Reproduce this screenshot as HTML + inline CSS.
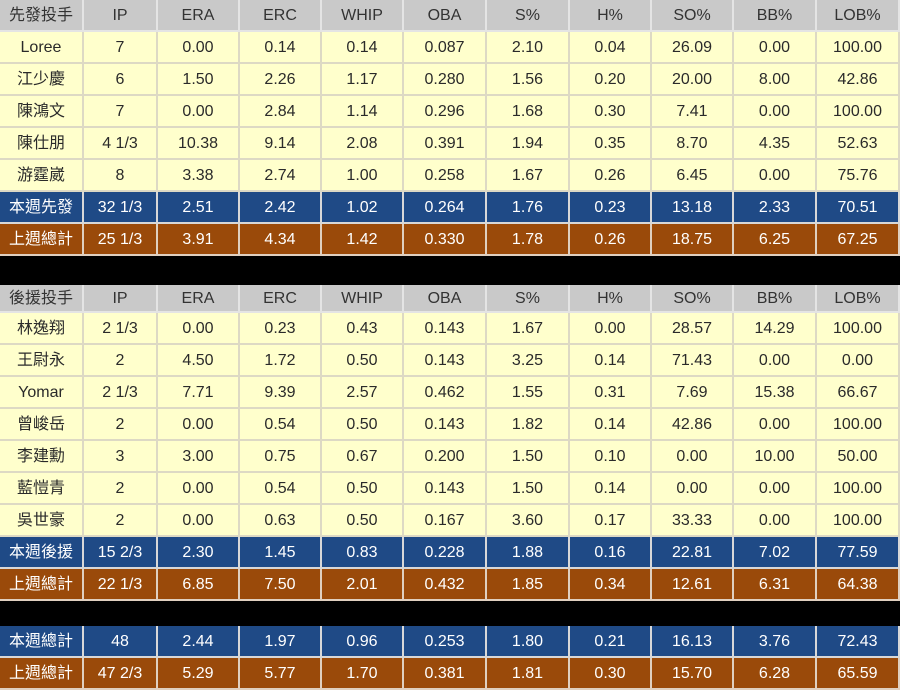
<!DOCTYPE html>
<html><head><meta charset="utf-8">
<style>
html,body{margin:0;padding:0;background:#000;}
body{width:900px;height:690px;position:relative;overflow:hidden;font-family:"Liberation Sans","Noto Sans CJK TC",sans-serif;}
.c{position:absolute;box-sizing:border-box;display:flex;align-items:center;justify-content:center;font-size:16px;line-height:20px;border-right:2px solid #ddd9c4;border-bottom:2px solid #ddd9c4;padding-top:1px;}
.c span{display:block;height:20px;line-height:20px;}
.h{background:#c9c9c9;color:#333;border-color:#e4e4e4;}
.y{background:#ffffcc;color:#2a2a2a;}
.b{background:#1f4a86;color:#fff;border-color:#d8d8d8;}
.o{background:#9a4a0a;color:#fff;border-color:#e0d0c0;}
</style></head><body>
<script>
const cols=[0,84,158,240,322,404,487,570,652,734,817,900];
const heads=["IP","ERA","ERC","WHIP","OBA","S%","H%","SO%","BB%","LOB%"];
const starters=[
["Loree","7","0.00","0.14","0.14","0.087","2.10","0.04","26.09","0.00","100.00"],
["江少慶","6","1.50","2.26","1.17","0.280","1.56","0.20","20.00","8.00","42.86"],
["陳鴻文","7","0.00","2.84","1.14","0.296","1.68","0.30","7.41","0.00","100.00"],
["陳仕朋","4 1/3","10.38","9.14","2.08","0.391","1.94","0.35","8.70","4.35","52.63"],
["游霆崴","8","3.38","2.74","1.00","0.258","1.67","0.26","6.45","0.00","75.76"]];
const starterTotals=[
["本週先發","32 1/3","2.51","2.42","1.02","0.264","1.76","0.23","13.18","2.33","70.51"],
["上週總計","25 1/3","3.91","4.34","1.42","0.330","1.78","0.26","18.75","6.25","67.25"]];
const relievers=[
["林逸翔","2 1/3","0.00","0.23","0.43","0.143","1.67","0.00","28.57","14.29","100.00"],
["王尉永","2","4.50","1.72","0.50","0.143","3.25","0.14","71.43","0.00","0.00"],
["Yomar","2 1/3","7.71","9.39","2.57","0.462","1.55","0.31","7.69","15.38","66.67"],
["曾峻岳","2","0.00","0.54","0.50","0.143","1.82","0.14","42.86","0.00","100.00"],
["李建勳","3","3.00","0.75","0.67","0.200","1.50","0.10","0.00","10.00","50.00"],
["藍愷青","2","0.00","0.54","0.50","0.143","1.50","0.14","0.00","0.00","100.00"],
["吳世豪","2","0.00","0.63","0.50","0.167","3.60","0.17","33.33","0.00","100.00"]];
const relieverTotals=[
["本週後援","15 2/3","2.30","1.45","0.83","0.228","1.88","0.16","22.81","7.02","77.59"],
["上週總計","22 1/3","6.85","7.50","2.01","0.432","1.85","0.34","12.61","6.31","64.38"]];
const grandTotals=[
["本週總計","48","2.44","1.97","0.96","0.253","1.80","0.21","16.13","3.76","72.43"],
["上週總計","47 2/3","5.29","5.77","1.70","0.381","1.81","0.30","15.70","6.28","65.59"]];

function row(vals,y,h,cls,name){
  for(let i=0;i<vals.length;i++){
    const d=document.createElement('div');
    d.className='c '+cls;
    d.style.left=cols[i]+'px';d.style.top=y+'px';
    d.style.width=(cols[i+1]-cols[i])+'px';d.style.height=h+'px';
    const s=document.createElement('span');
    s.textContent=vals[i];
    d.appendChild(s);
    
    
    document.body.appendChild(d);
  }
}
let y=0;
row(["先發投手"].concat(heads),y,32,'h','starter-header');y+=32;
starters.forEach(r=>{row(r,y,32,'y','starter-row');y+=32;});
row(starterTotals[0],y,32,'b','starter-week-total');y+=32;
row(starterTotals[1],y,32,'o','starter-last-week-total');y+=32;
y=285;
row(["後援投手"].concat(heads),y,28,'h','reliever-header');y+=28;
relievers.forEach(r=>{row(r,y,32,'y','reliever-row');y+=32;});
row(relieverTotals[0],y,32,'b','reliever-week-total');y+=32;
row(relieverTotals[1],y,32,'o','reliever-last-week-total');y+=32;
y=626;
row(grandTotals[0],y,32,'b','grand-week-total');y+=32;
row(grandTotals[1],y,32,'o','grand-last-week-total');
</script>
</body></html>
